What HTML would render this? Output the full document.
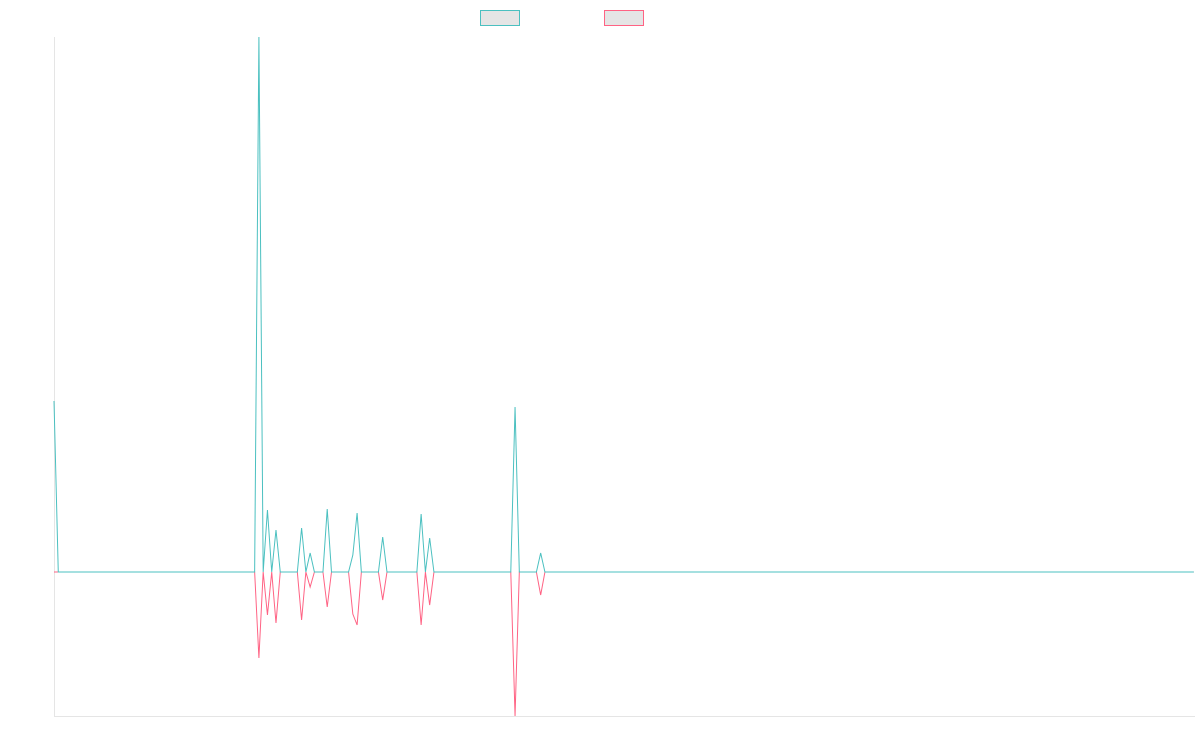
<!DOCTYPE html>
<html><head><meta charset="utf-8"><style>
html,body{margin:0;padding:0;background:#fff;width:1200px;height:750px;overflow:hidden;font-family:"Liberation Sans",sans-serif}
</style></head><body>
<svg id="chart" width="1200" height="750">
  <rect x="480.5" y="10.5" width="39" height="15" fill="#e5e5e5" stroke="#4bc0c0" stroke-width="1"/>
  <rect x="604.5" y="10.5" width="39" height="15" fill="#e5e5e5" stroke="#ff6384" stroke-width="1"/>
  <line x1="54.5" y1="37" x2="54.5" y2="716" stroke="#e5e5e5"/>
  <line x1="54" y1="716.5" x2="1195" y2="716.5" stroke="#e5e5e5"/>
  <g id="series"></g>
</svg>
<script>
const pointCount = 268;
const spikeIndices = [0, 48, 50, 52, 58, 60, 64, 70, 71, 77, 86, 88, 108, 114];
const tealValues = [171, 535, 62, 42, 44, 19, 63, 17, 59, 35, 58, 34, 165, 19];
const pinkValues = [0, -86, -43, -51, -48, -15, -35, -42, -53, -28, -53, -33, -144, -23];
const yMin = -144, yMax = 535;
const x0 = 54, step = 4.269;
function xs(i){return x0 + i*step;}
function ys(v){return 716 - (v - yMin)/(yMax - yMin)*(716-37);}
function build(vals){
  const arr = new Array(pointCount).fill(0);
  spikeIndices.forEach((idx,k)=>{arr[idx]=vals[k];});
  return arr.map((v,i)=>xs(i).toFixed(2)+','+ys(v).toFixed(2)).join(' ');
}
const g = document.getElementById('series');
const ns='http://www.w3.org/2000/svg';
const p2=document.createElementNS(ns,'polyline');
p2.setAttribute('points',build(pinkValues));
p2.setAttribute('fill','none');p2.setAttribute('stroke','#ff6384');p2.setAttribute('stroke-width','1');


g.appendChild(p2);
const p1=document.createElementNS(ns,'polyline');
p1.setAttribute('points',build(tealValues));
p1.setAttribute('fill','none');p1.setAttribute('stroke','#4bc0c0');p1.setAttribute('stroke-width','1');


g.appendChild(p1);
</script>
</body></html>
